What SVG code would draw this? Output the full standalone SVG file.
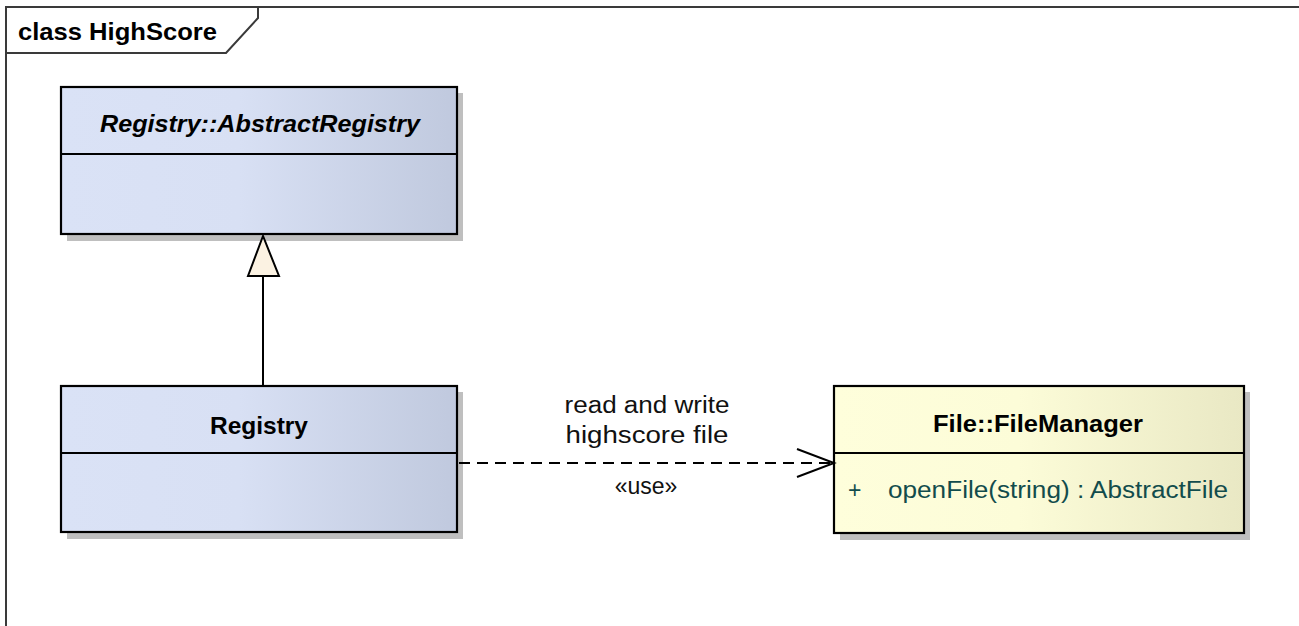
<svg xmlns="http://www.w3.org/2000/svg" width="1299" height="626" viewBox="0 0 1299 626">
  <style>
    .frame { fill: none; stroke: #3a3a3a; stroke-width: 2; }
    .box { stroke: #000; stroke-width: 2.2; }
    .sep { stroke: #000; stroke-width: 2; }
    .shadow { fill: #bfbfbf; }
    .title { font-family: "Liberation Sans", Arial, sans-serif; font-size: 24px; font-weight: bold; fill: #000; text-anchor: middle; }
    .label { font-family: "Liberation Sans", Arial, sans-serif; font-size: 23px; fill: #111; text-anchor: middle; }
    .member { font-family: "Liberation Sans", Arial, sans-serif; font-size: 23px; fill: #124c4c; }
    .conn { fill: none; stroke: #000; stroke-width: 2; }
  </style>
  <defs>
    <linearGradient id="blueFill" x1="0" y1="0" x2="1" y2="0">
      <stop offset="0" stop-color="#dae2f6"/>
      <stop offset="0.45" stop-color="#d8e0f4"/>
      <stop offset="1" stop-color="#c0c9de"/>
    </linearGradient>
    <linearGradient id="yellowFill" x1="0" y1="0" x2="1" y2="0">
      <stop offset="0" stop-color="#fefedb"/>
      <stop offset="0.45" stop-color="#fcfcd8"/>
      <stop offset="1" stop-color="#e9e8c4"/>
    </linearGradient>
  </defs>

  <rect width="1299" height="626" fill="#fff"/>

  <!-- diagram frame with name tab -->
  <g id="frame">
    <polyline class="frame" points="6,626 6,7 1299,7"/>
    <polyline class="frame" stroke-width="1.5" points="6,53 226,53 258,18 258,7"/>
    <text x="18" y="40" font-family="'Liberation Sans', Arial, sans-serif" font-size="24" font-weight="bold" textLength="199" lengthAdjust="spacingAndGlyphs">class HighScore</text>
  </g>

  <!-- abstract base class -->
  <g id="AbstractRegistry">
    <rect class="shadow" x="67" y="93" width="396" height="148"/>
    <rect class="box" x="61" y="87" width="396" height="147" fill="url(#blueFill)"/>
    <line class="sep" x1="61" y1="154" x2="457" y2="154"/>
    <text class="title" x="260" y="132" font-style="italic" textLength="320" lengthAdjust="spacingAndGlyphs">Registry::AbstractRegistry</text>
  </g>

  <!-- concrete registry class -->
  <g id="Registry">
    <rect class="shadow" x="67" y="392" width="396" height="147"/>
    <rect class="box" x="61" y="386" width="396" height="146" fill="url(#blueFill)"/>
    <line class="sep" x1="61" y1="453" x2="457" y2="453"/>
    <text class="title" x="259" y="434" textLength="98" lengthAdjust="spacingAndGlyphs">Registry</text>
  </g>

  <!-- file manager class -->
  <g id="FileManager">
    <rect class="shadow" x="840" y="392" width="410" height="148"/>
    <rect class="box" x="834" y="386" width="410" height="147" fill="url(#yellowFill)"/>
    <line class="sep" x1="834" y1="453" x2="1244" y2="453"/>
    <text class="title" x="1038" y="432" textLength="210" lengthAdjust="spacingAndGlyphs">File::FileManager</text>
    <text class="member" x="848" y="498">+</text>
    <text class="member" x="888" y="498" textLength="340" lengthAdjust="spacingAndGlyphs">openFile(string) : AbstractFile</text>
  </g>

  <!-- connectors -->
  <g id="connectors">
    <!-- generalization: Registry -> AbstractRegistry -->
    <line class="conn" x1="263" y1="385" x2="263" y2="276"/>
    <polygon points="263,236 248,276 279,276" fill="#fbf2e2" stroke="#000" stroke-width="2" stroke-linejoin="miter"/>
    <!-- dependency: Registry uses FileManager -->
    <line class="conn" x1="459" y1="463" x2="832" y2="463" stroke-dasharray="11 7"/>
    <polyline class="conn" points="797,449 834,463 797,477"/>
    <text class="label" x="647" y="413" textLength="165" lengthAdjust="spacingAndGlyphs">read and write</text>
    <text class="label" x="647" y="443" textLength="163" lengthAdjust="spacingAndGlyphs">highscore file</text>
    <text class="label" x="646" y="494">«use»</text>
  </g>
</svg>
